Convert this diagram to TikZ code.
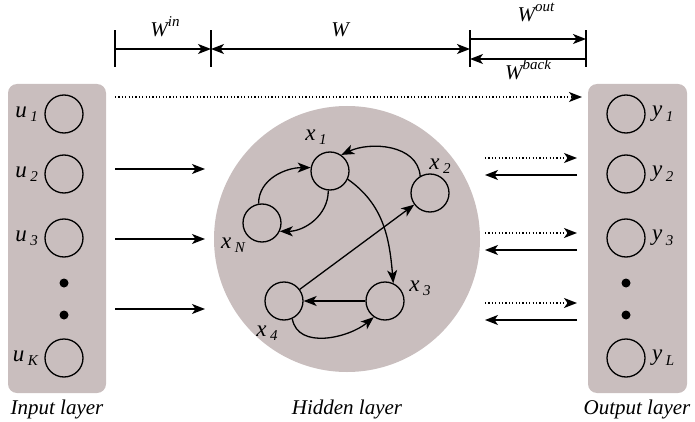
\documentclass[tikz,border=0pt]{standalone}
\usepackage{fontspec}
\setmainfont{Liberation Serif}
\usetikzlibrary{arrows.meta,positioning,calc}
\definecolor{layergray}{RGB}{201,190,190}
% subscripted / superscripted labels
\newcommand{\unit}[2]{{\fontsize{23}{24}\selectfont #1}\,\raisebox{-0.45ex}{\fontsize{15}{15}\selectfont #2}}
\newcommand{\wmat}[1]{W\raisebox{1.05ex}{\fontsize{15}{15}\selectfont #1}}

\begin{document}
\begin{tikzpicture}[x=1pt, y=-1pt,
    >={Stealth[length=13pt,width=10pt,inset=3.5pt]},
    every node/.style={font=\fontsize{21}{24}\selectfont\itshape},
    neuron/.style={circle, draw, line width=1.3pt, minimum size=38pt, inner sep=0pt},
    layer/.style={fill=layergray, rounded corners=9pt, inner sep=0pt},
    link/.style={->, line width=1.3pt},
    feed/.style={->, line width=1.3pt, dash pattern=on 1.1pt off 2.3pt},
    bar/.style={line width=2.6pt}]
  \useasboundingbox (0,0) rectangle (695,422);
  % layers
  \node[layer, minimum width=98pt, minimum height=309pt] (inbox) at (57,238.5) {};
  \node[layer, minimum width=99pt, minimum height=309pt] (outbox) at (637.5,238.5) {};
  \node[circle, fill=layergray, minimum size=266pt, inner sep=0pt] (hidden) at (347,239) {};
  % input units
  \node[neuron] (u1) at (64,114) {};
  \node[neuron] (u2) at (64,174) {};
  \node[neuron] (u3) at (64,238) {};
  \node[neuron] (uK) at (64,358) {};
  \node[left=3pt of u1] {\unit{u}{1}};
  \node[left=3pt of u2] {\unit{u}{2}};
  \node[left=3pt of u3] {\unit{u}{3}};
  \node[left=3pt of uK] {\unit{u}{K}};
  % output units
  \node[neuron] (y1) at (626,114) {};
  \node[neuron] (y2) at (626,174) {};
  \node[neuron] (y3) at (626,238) {};
  \node[neuron] (yL) at (626,358) {};
  \node[right=3pt of y1] {\unit{y}{1}};
  \node[right=3pt of y2] {\unit{y}{2}};
  \node[right=3pt of y3] {\unit{y}{3}};
  \node[right=3pt of yL] {\unit{y}{L}};
  \foreach \xx in {64,626}
    \foreach \yy in {283,315}
      \fill (\xx,\yy) circle[radius=4.5pt];
  % hidden units
  \node[neuron] (x1) at (330,171) {};
  \node[neuron] (x2) at (430,193) {};
  \node[neuron] (xN) at (262,223) {};
  \node[neuron] (x4) at (284,301) {};
  \node[neuron] (x3) at (385,301) {};
  \node at ($(x1)+(-14,-34)$) {\unit{x}{1}};
  \node at ($(x2)+(10,-27)$) {\unit{x}{2}};
  \node at ($(xN)+(-29,22)$) {\unit{x}{N}};
  \node at ($(x4)+(-17,32)$) {\unit{x}{4}};
  \node at ($(x3)+(35,-13)$) {\unit{x}{3}};
  % recurrent connections
  \draw[link] (xN.100) to[out=90,in=180] (x1.170);
  \draw[link] (x1.-95) to[out=-90,in=0] (xN.-25);
  \draw[link] (x2.120) to[out=95,in=25] (x1.55);
  \draw[link] (x1.-25) to[out=-35,in=95] (x3.65);
  \draw[link] (x4) -- (x2);
  \draw[link] (x3) -- (x4);
  \draw[link] (x4.-65) to[out=-80,in=-140] (x3.-125);
  % connections between layers
  \coordinate (in0) at (115,97);
  \coordinate (out0) at (582,97);
  \draw[feed] (in0) -- (out0);
  \foreach \i/\yy in {2/169,3/239,K/309} {
    \coordinate (a\i) at (115,\yy);
    \coordinate (b\i) at (205,\yy);
    \draw[link] (a\i) -- (b\i);
  }
  \foreach \i/\yy/\yb in {2/158/175,3/233/250,L/303/320} {
    \coordinate (c\i) at (485,\yy);
    \coordinate (d\i) at (577,\yy);
    \coordinate (e\i) at (577,\yb);
    \coordinate (f\i) at (485,\yb);
    \draw[feed] (c\i) -- (d\i);
    \draw[link] (e\i) -- (f\i);
  }
  % weight matrices
  \coordinate (m1) at (115,49);
  \coordinate (m2) at (211,49);
  \coordinate (m3) at (470,49);
  \coordinate (m4) at (586,49);
  \foreach \m in {m1,m2,m3,m4}
    \draw[bar] ($(\m)+(0,-18.5)$) -- ($(\m)+(0,18)$);
  \draw[link] (m1) -- (m2);
  \draw[link, <->] (m2) -- (m3);
  \draw[link] ($(m3)+(0,-10)$) -- ($(m4)+(0,-10)$);
  \draw[link] ($(m4)+(0,10)$) -- ($(m3)+(0,10)$);
  \node[anchor=base] at (165,37) {\wmat{in}};
  \node[anchor=base] at (340,37) {W};
  \node[anchor=base] at (536,22) {\wmat{out}};
  \node[anchor=base] at (528,80) {\wmat{back}};
  % layer names
  \node[anchor=base] at (57,414) {Input layer};
  \node[anchor=base] at (347,414) {Hidden layer};
  \node[anchor=base] at (637,414) {Output layer};
\end{tikzpicture}
\end{document}
